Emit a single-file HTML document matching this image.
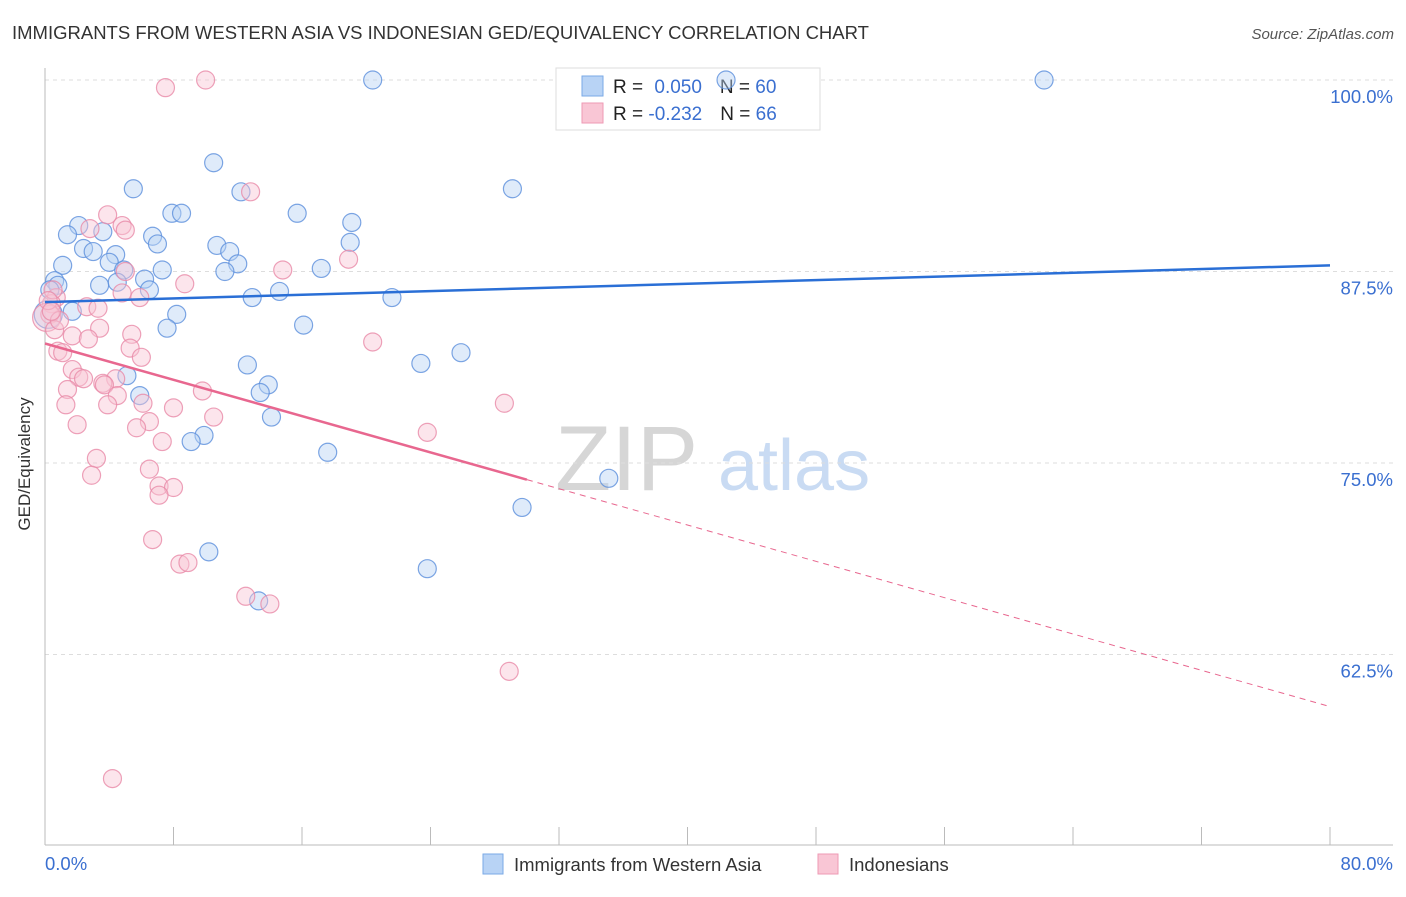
<!DOCTYPE html>
<html><head><meta charset="utf-8">
<style>
body{margin:0;background:#fff;font-family:"Liberation Sans",sans-serif;}
svg text{font-family:"Liberation Sans",sans-serif;}
</style></head>
<body>
<svg id="chart" width="1406" height="892" xmlns="http://www.w3.org/2000/svg">
<text x="12" y="39" font-size="18.5" fill="#333">IMMIGRANTS FROM WESTERN ASIA VS INDONESIAN GED/EQUIVALENCY CORRELATION CHART</text>
<text x="1394" y="39" font-size="15" fill="#555" font-style="italic" text-anchor="end">Source: ZipAtlas.com</text>
<g>
<text x="555" y="490" font-size="92" fill="#d6d6d6" font-family="Liberation Serif">ZIP</text>
<text x="718" y="490" font-size="72" fill="#c9dbf3">atlas</text>
</g>
<g id="grid"></g>
<g id="axes"></g>
<g>
<rect x="556" y="68" width="264" height="62" fill="#fff" stroke="#ddd"/>
<rect x="582" y="76" width="21" height="20" fill="#b8d3f5" stroke="#7aaae6"/>
<rect x="582" y="103" width="21" height="20" fill="#f9c6d5" stroke="#ee9ab4"/>
<text x="613" y="93" font-size="19" fill="#222">R = <tspan fill="#3a6fd0" dx="6">0.050</tspan><tspan dx="18">N = </tspan><tspan fill="#3a6fd0">60</tspan></text>
<text x="613" y="120" font-size="19" fill="#222">R = <tspan fill="#3a6fd0">-0.232</tspan><tspan dx="18">N = </tspan><tspan fill="#3a6fd0">66</tspan></text>
</g>
<g id="pts"></g>
<g id="trend"></g>
<text x="22" y="456" font-size="17" fill="#333" text-anchor="middle" transform="rotate(-90 30 456)">GED/Equivalency</text>
<g>
<rect x="483" y="854" width="20" height="20" fill="#b8d3f5" stroke="#7aaae6"/>
<text x="514" y="871" font-size="18.5" fill="#333">Immigrants from Western Asia</text>
<rect x="818" y="854" width="20" height="20" fill="#f9c6d5" stroke="#ee9ab4"/>
<text x="849" y="871" font-size="18.5" fill="#333">Indonesians</text>
</g>
</svg>
<script>
const blueX=[20.4,42.4,62.2,10.5,5.5,12.2,29.1,7.9,8.5,15.7,19.1,2.1,1.4,3.6,6.7,7.0,10.7,11.5,19.0,2.4,3.0,4.4,1.1,4.0,4.9,7.3,12.0,11.2,17.2,0.6,0.8,6.2,3.4,4.5,6.5,12.9,14.6,21.6,1.7,8.2,7.6,16.1,23.4,25.9,12.6,5.1,13.9,13.4,5.9,14.1,9.9,9.1,17.6,35.1,29.7,10.2,23.8,13.3,0.3,0.2];
const blueY=[100,100,100,94.6,92.9,92.7,92.9,91.3,91.3,91.3,90.7,90.5,89.9,90.1,89.8,89.3,89.2,88.8,89.4,89.0,88.8,88.6,87.9,88.1,87.6,87.6,88.0,87.5,87.7,86.9,86.6,87.0,86.6,86.8,86.3,85.8,86.2,85.8,84.9,84.7,83.8,84.0,81.5,82.2,81.4,80.7,80.1,79.6,79.4,78.0,76.8,76.4,75.7,74.0,72.1,69.2,68.1,66.0,86.3,84.7];
const pinkX=[10.0,7.5,12.8,3.9,2.8,4.8,5.0,14.8,18.9,5.0,8.7,0.7,0.4,2.6,3.3,5.9,4.8,0.3,3.4,5.4,1.7,2.7,20.4,5.3,6.0,0.8,1.1,1.7,2.1,2.4,4.4,3.6,3.7,9.8,1.4,4.5,6.1,1.3,3.9,8.0,10.5,6.5,28.6,23.8,2.0,5.7,7.3,3.2,6.5,2.9,7.1,8.0,7.1,6.7,8.4,8.9,12.5,14.0,28.9,4.2,0.5,0.1,0.6,0.9,0.2,0.4];
const pinkY=[100,99.5,92.7,91.2,90.3,90.5,90.2,87.6,88.3,87.5,86.7,85.8,85.4,85.2,85.1,85.8,86.1,84.7,83.8,83.4,83.3,83.1,82.9,82.5,81.9,82.3,82.2,81.1,80.6,80.5,80.5,80.2,80.1,79.7,79.8,79.4,78.9,78.8,78.8,78.6,78.0,77.7,78.9,77.0,77.5,77.3,76.4,75.3,74.6,74.2,73.5,73.4,72.9,70.0,68.4,68.5,66.3,65.8,61.4,54.4,86.3,84.5,83.7,84.3,85.6,84.9];
const blueTrend=[85.5,87.9];
const pinkTrend=[82.8,59.1];
const pinkSolidEnd=30.0;
const yTicks=[100,87.5,75,62.5];
const yTickLabels=["100.0%","87.5%","75.0%","62.5%"];
const NS="http://www.w3.org/2000/svg";
const X=v=>45+v/80*1285;
const Y=v=>80+(100-v)*15.32;
function mk(tag,attrs,parent){const e=document.createElementNS(NS,tag);for(const k in attrs)e.setAttribute(k,attrs[k]);parent.appendChild(e);return e;}
const grid=document.getElementById('grid'),axes=document.getElementById('axes'),pts=document.getElementById('pts'),trend=document.getElementById('trend');
yTicks.forEach((t,i)=>{
 const l=mk('line',{x1:45,x2:1393,y1:Y(t),y2:Y(t),stroke:'#ddd','stroke-dasharray':'4,4'},grid);
 
 
 const tx=mk('text',{x:1393,y:Y(t)+23,'font-size':18.5,fill:'#3a6fd0','text-anchor':'end'},axes);
 tx.textContent=yTickLabels[i];
 
 
});
let a=mk('line',{x1:45,x2:45,y1:68,y2:845,stroke:'#bbb'},axes);


a=mk('line',{x1:45,x2:1393,y1:845,y2:845,stroke:'#bbb'},axes);


for(let i=0;i<=10;i++){
 const t=mk('line',{x1:X(i*8),x2:X(i*8),y1:827,y2:845,stroke:'#bbb'},axes);
 
 
}
let xl=mk('text',{x:45,y:870,'font-size':18.5,fill:'#3a6fd0'},axes);xl.textContent='0.0%';


xl=mk('text',{x:1393,y:870,'font-size':18.5,fill:'#3a6fd0','text-anchor':'end'},axes);xl.textContent='80.0%';


function dots(xs,ys,fill,stroke,name,bigMax){
 xs.forEach((x,i)=>{
  const r=(x<bigMax)?14:9;
  const c=mk('circle',{cx:X(x),cy:Y(ys[i]),r:r,fill:fill,'fill-opacity':0.45,stroke:stroke,'stroke-width':1.2,'stroke-opacity':0.8},pts);
  
  
 });
}
dots(blueX,blueY,'#b8d3f5','#5b8fdc','point-western-asia',0.25);
dots(pinkX,pinkY,'#f9c6d5','#e88aa8','point-indonesians',0.15);
let ln=mk('line',{x1:X(0),y1:Y(blueTrend[0]),x2:X(80),y2:Y(blueTrend[1]),stroke:'#2a6fd6','stroke-width':2.5},trend);


const pv=x=>pinkTrend[0]+(pinkTrend[1]-pinkTrend[0])*x/80;
ln=mk('line',{x1:X(0),y1:Y(pinkTrend[0]),x2:X(pinkSolidEnd),y2:Y(pv(pinkSolidEnd)),stroke:'#e8678f','stroke-width':2.5},trend);


ln=mk('line',{x1:X(pinkSolidEnd),y1:Y(pv(pinkSolidEnd)),x2:X(80),y2:Y(pinkTrend[1]),stroke:'#e8678f','stroke-width':1,'stroke-dasharray':'6,5'},trend);


</script>
</body></html>
